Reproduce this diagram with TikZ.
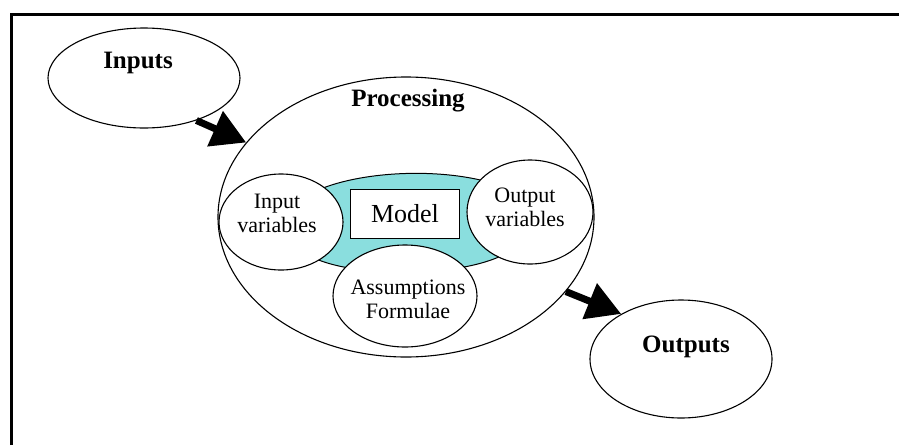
\documentclass[tikz,border=0pt]{standalone}
\usepackage{fontspec}
\setmainfont{Liberation Serif}
\usetikzlibrary{shapes.geometric,arrows.meta}
\definecolor{bandcyan}{RGB}{138,222,222}
\begin{document}
\begin{tikzpicture}[x=1pt,y=-1pt,
  oval/.style={ellipse, draw, line width=1.1pt, fill=white, inner sep=0pt},
  boldlabel/.style={font=\fontsize{25}{28}\selectfont\bfseries, inner sep=0pt},
  plainlabel/.style={font=\fontsize{22}{24}\selectfont, align=center, inner sep=0pt},
  bigarrow/.style={line width=7pt, -{Triangle[length=34pt,width=37pt]}}]
  \useasboundingbox (0,0) rectangle (899,445);
  % page frame (only top and left edges fall inside the picture)
  \coordinate (frameBL) at (11.5,445);
  \coordinate (frameTL) at (11.5,14.5);
  \coordinate (frameTR) at (899,14.5);
  \draw[line width=3pt] (frameBL) -- (frameTL) -- (frameTR);

  % outer ellipses
  \node[oval, minimum width=192pt, minimum height=100pt] (inputs) at (144,78) {};
  \node[boldlabel] (inputsT) at (138,63) {Inputs};
  \node[oval, minimum width=376pt, minimum height=280pt] (proc) at (406,217) {};
  \node[boldlabel] (procT) at (408,101) {Processing};
  \node[oval, minimum width=182pt, minimum height=118pt] (outputs) at (681,359) {};
  \node[boldlabel] (outputsT) at (686,347) {Outputs};

  % shaded band joining the inner parts
  \filldraw[fill=bandcyan, draw=black, line width=1pt]
    (318,190) .. controls (365,170) and (445,168) .. (495,184)
    -- (505,254) .. controls (460,278) and (350,278) .. (310,256) -- cycle;

  % inner parts
  \node[oval, minimum width=124pt, minimum height=96pt] (invar) at (281,222) {};
  \node[plainlabel] (invarT) at (277,213) {Input\\variables};
  \node[oval, minimum width=126pt, minimum height=104pt] (outvar) at (530,212) {};
  \node[plainlabel] (outvarT) at (525,207) {Output\\variables};
  \node[oval, minimum width=144pt, minimum height=102pt] (assump) at (405,296) {};
  \node[plainlabel] (assumpT) at (408,299) {Assumptions\\Formulae};
  \node[draw, line width=1.1pt, fill=white, minimum width=109pt, minimum height=49pt,
        font=\fontsize{26}{30}\selectfont, inner sep=0pt] (model) at (405,214) {Model};

  % flow arrows
  \draw[bigarrow] (inputs.-39) -- (proc.155);
  \draw[bigarrow] (proc.-25) -- (outputs.143);
\end{tikzpicture}
\end{document}
